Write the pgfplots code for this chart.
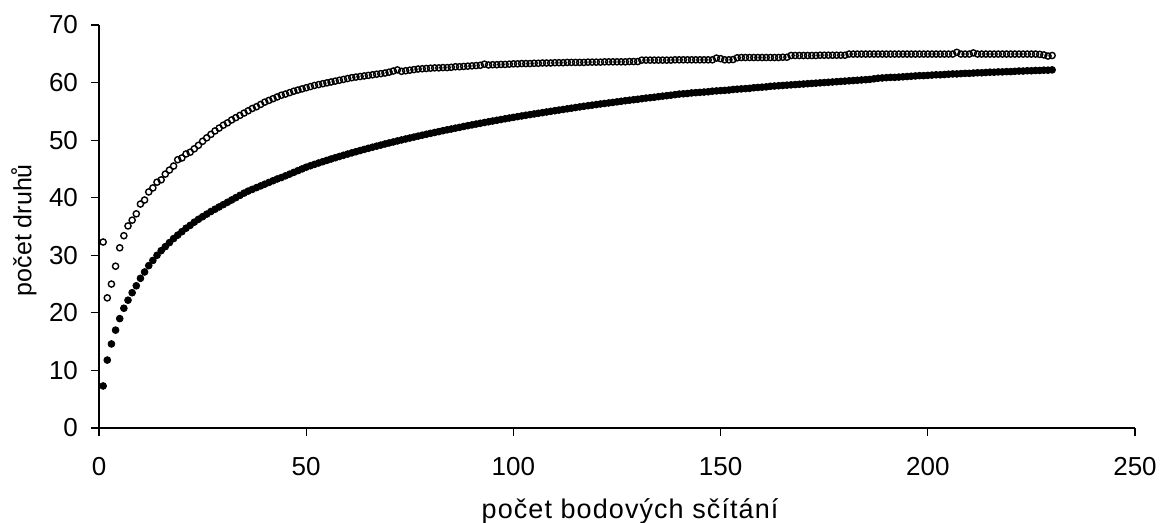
\documentclass[border=0pt]{standalone}
\usepackage{fontspec}
\setmainfont{Liberation Sans}
\usepackage{pgfplots}
\usepackage{pgfplotstable}
\pgfplotsset{compat=1.18}

% x = number of point counts, sobs = observed species (filled), est = estimate (open)
\pgfplotstableread[row sep=\\]{
x sobs est\\
1 7.3 32.3\\ 2 11.8 22.6\\ 3 14.6 25.0\\ 4 17.0 28.1\\ 5 19.0 31.3\\
6 20.8 33.4\\ 7 22.2 35.1\\ 8 23.5 36.1\\ 9 24.7 37.2\\ 10 26.0 38.9\\
11 27.1 39.6\\ 12 28.2 41.0\\ 13 29.1 41.7\\ 14 30.0 42.7\\ 15 30.8 43.1\\
16 31.5 44.1\\ 17 32.2 44.8\\ 18 32.9 45.5\\ 19 33.5 46.6\\ 20 34.1 46.9\\
21 34.7 47.6\\ 22 35.2 47.9\\ 23 35.75 48.5\\ 24 36.25 49.1\\ 25 36.7 49.8\\
26 37.15 50.4\\ 27 37.6 51.0\\ 28 38.0 51.6\\ 29 38.4 52.1\\ 30 38.8 52.6\\
31 39.2 53.0\\ 32 39.6 53.5\\ 33 40.0 53.9\\ 34 40.4 54.3\\ 35 40.8 54.7\\
36 41.15 55.1\\ 37 41.45 55.5\\ 38 41.75 55.8\\ 39 42.05 56.2\\ 40 42.35 56.6\\
41 42.65 56.9\\ 42 42.95 57.2\\ 43 43.25 57.5\\ 44 43.5 57.8\\ 45 43.8 58.0\\
46 44.1 58.25\\ 47 44.4 58.5\\ 48 44.7 58.7\\ 49 45.0 58.9\\ 50 45.3 59.1\\
51 45.55 59.3\\ 52 45.79 59.5\\ 53 46.03 59.65\\ 54 46.26 59.8\\ 55 46.49 59.95\\
56 46.72 60.1\\ 57 46.94 60.25\\ 58 47.16 60.4\\ 59 47.37 60.55\\ 60 47.58 60.7\\
61 47.79 60.85\\ 62 47.99 60.95\\ 63 48.19 61.05\\ 64 48.39 61.15\\ 65 48.58 61.25\\
66 48.77 61.35\\ 67 48.96 61.45\\ 68 49.14 61.55\\ 69 49.33 61.65\\ 70 49.51 61.8\\
71 49.68 62.0\\ 72 49.86 62.2\\ 73 50.03 61.95\\ 74 50.2 62.05\\ 75 50.37 62.15\\
76 50.53 62.25\\ 77 50.7 62.35\\ 78 50.86 62.4\\ 79 51.02 62.45\\ 80 51.18 62.5\\
81 51.33 62.55\\ 82 51.48 62.55\\ 83 51.64 62.6\\ 84 51.79 62.6\\ 85 51.93 62.65\\
86 52.08 62.75\\ 87 52.22 62.75\\ 88 52.37 62.8\\ 89 52.51 62.85\\ 90 52.65 62.9\\
91 52.79 62.95\\ 92 52.92 63.0\\ 93 53.06 63.2\\ 94 53.19 63.05\\ 95 53.32 63.1\\
96 53.45 63.1\\ 97 53.58 63.15\\ 98 53.71 63.15\\ 99 53.84 63.2\\ 100 53.96 63.25\\
101 54.08 63.25\\ 102 54.2 63.3\\ 103 54.32 63.3\\ 104 54.43 63.3\\ 105 54.55 63.35\\
106 54.66 63.35\\ 107 54.77 63.4\\ 108 54.89 63.4\\ 109 55.0 63.4\\ 110 55.11 63.45\\
111 55.22 63.45\\ 112 55.33 63.45\\ 113 55.44 63.5\\ 114 55.55 63.5\\ 115 55.66 63.5\\
116 55.77 63.5\\ 117 55.88 63.5\\ 118 55.98 63.55\\ 119 56.08 63.55\\ 120 56.18 63.55\\
121 56.28 63.55\\ 122 56.37 63.6\\ 123 56.46 63.6\\ 124 56.55 63.6\\ 125 56.65 63.6\\
126 56.75 63.6\\ 127 56.85 63.6\\ 128 56.93 63.65\\ 129 57.02 63.65\\ 130 57.1 63.65\\
131 57.2 63.9\\ 132 57.3 63.9\\ 133 57.37 63.9\\ 134 57.45 63.9\\ 135 57.55 63.9\\
136 57.64 63.9\\ 137 57.72 63.9\\ 138 57.8 63.9\\ 139 57.9 63.95\\ 140 58.0 63.95\\
141 58.05 63.95\\ 142 58.1 63.95\\ 143 58.2 63.95\\ 144 58.25 63.95\\ 145 58.3 63.95\\
146 58.35 63.95\\ 147 58.4 63.95\\ 148 58.5 63.95\\ 149 58.55 64.25\\ 150 58.6 64.15\\
151 58.65 63.95\\ 152 58.7 63.95\\ 153 58.8 64.0\\ 154 58.85 64.3\\ 155 58.9 64.35\\
156 58.95 64.35\\ 157 59.0 64.35\\ 158 59.1 64.35\\ 159 59.15 64.35\\ 160 59.2 64.35\\
161 59.25 64.35\\ 162 59.35 64.35\\ 163 59.4 64.35\\ 164 59.45 64.35\\ 165 59.5 64.4\\
166 59.55 64.4\\ 167 59.6 64.7\\ 168 59.65 64.7\\ 169 59.7 64.7\\ 170 59.75 64.7\\
171 59.8 64.7\\ 172 59.85 64.7\\ 173 59.9 64.7\\ 174 59.95 64.75\\ 175 60.0 64.75\\
176 60.05 64.75\\ 177 60.1 64.75\\ 178 60.15 64.75\\ 179 60.2 64.75\\ 180 60.25 64.75\\
181 60.3 64.95\\ 182 60.35 64.95\\ 183 60.4 64.95\\ 184 60.45 64.95\\ 185 60.5 64.95\\
186 60.55 64.95\\ 187 60.65 64.95\\ 188 60.75 64.95\\ 189 60.8 64.95\\ 190 60.85 64.95\\
191 60.9 64.95\\ 192 60.9 64.95\\ 193 60.95 64.95\\ 194 61.0 64.95\\ 195 61.05 64.95\\
196 61.1 64.95\\ 197 61.15 64.95\\ 198 61.2 64.95\\ 199 61.2 64.95\\ 200 61.25 64.95\\
201 61.3 64.95\\ 202 61.35 64.95\\ 203 61.35 64.95\\ 204 61.4 64.95\\ 205 61.45 64.95\\
206 61.5 64.95\\ 207 61.5 65.25\\ 208 61.55 64.95\\ 209 61.6 64.95\\ 210 61.6 64.95\\
211 61.65 65.15\\ 212 61.7 64.95\\ 213 61.7 64.95\\ 214 61.75 64.95\\ 215 61.8 64.95\\
216 61.8 64.95\\ 217 61.85 64.95\\ 218 61.85 64.95\\ 219 61.9 64.95\\ 220 61.9 64.95\\
221 61.95 64.95\\ 222 62.0 64.95\\ 223 62.0 64.95\\ 224 62.05 64.95\\ 225 62.05 64.95\\
226 62.1 64.95\\ 227 62.1 64.9\\ 228 62.15 64.8\\ 229 62.15 64.6\\ 230 62.2 64.7\\
}\datatable

\begin{document}
\begin{tikzpicture}
\begin{axis}[
  scale only axis, width=518pt, height=201.5pt,
  at={(0,0)}, anchor=south west,
  xmin=0, xmax=250, ymin=0, ymax=70,
  xtick={0,50,...,250}, ytick={0,10,...,70},
  axis x line*=bottom, axis y line*=left,
  axis line style={-, black, line width=0.6pt},
  tick align=outside, major tick length=4pt,
  tick style={black, line width=0.6pt},
  /pgf/number format/assume math mode=true,
  ticklabel style={font=\fontsize{13}{15}\selectfont},
  xticklabel style={yshift=-7pt},
  yticklabel style={xshift=-3pt},
  label style={font=\fontsize{12.5}{15}\selectfont},
  xlabel={\fontsize{13.5}{16}\selectfont\addfontfeature{LetterSpace=4}počet bodových sčítání},
  ylabel={počet druhů},
  xlabel style={at={(axis description cs:0.5126,-0.206)}, anchor=center},
  ylabel style={at={(axis description cs:-0.0724,0.491)}, anchor=center},
  clip=false,
]
\addplot[only marks, mark=*, mark size=1.7pt, mark options={fill=black, draw=black}]
  table[x=x, y=sobs] {\datatable};
\addplot[only marks, mark=o, mark size=1.55pt, mark options={fill=white, draw=black, line width=0.7pt}]
  table[x=x, y=est] {\datatable};
\end{axis}
\pgfresetboundingbox
\path (-49.5pt,-47.5pt) rectangle (530.5pt,214pt);
\end{tikzpicture}
\end{document}
